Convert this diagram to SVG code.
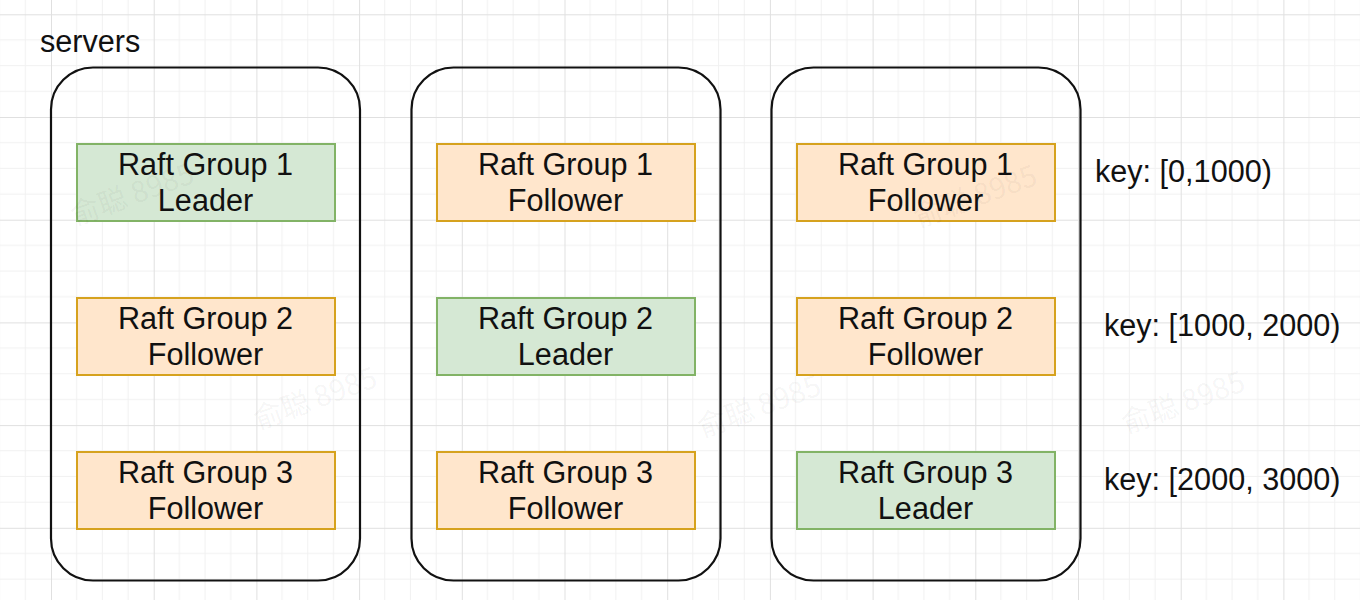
<svg xmlns="http://www.w3.org/2000/svg" width="1360" height="600" viewBox="0 0 1360 600">
  <defs>
    <pattern id="grid" patternUnits="userSpaceOnUse" x="51" y="14.3" width="102.7" height="102.7">
      <path d="M25.675 0V102.7M51.35 0V102.7M77.025 0V102.7M0 25.675H102.7M0 51.35H102.7M0 77.025H102.7" stroke="#f1f1f1" stroke-width="1" fill="none"/>
      <path d="M0.5 0V102.7M0 0.5H102.7" stroke="#e0e0e0" stroke-width="1" fill="none"/>
    </pattern>
    <style>
      .server { fill: none; stroke: #111; stroke-width: 2.2; }
      .leader { fill: #d5e8d4; stroke: #82b366; stroke-width: 2; }
      .follower { fill: #ffe6cc; stroke: #d6a21e; stroke-width: 2; }
      .t { font-family: "Liberation Sans", Arial, sans-serif; font-size: 30.6px; fill: #111; }
      .c { text-anchor: middle; }
      .wm { font-family: "Noto Sans CJK SC", "Liberation Sans", sans-serif; font-size: 29px; fill: #000; fill-opacity: 0.05; }
    </style>
  </defs>
  <rect width="1360" height="600" fill="#ffffff"/>
  <rect width="1360" height="600" fill="url(#grid)"/>

  <text class="t" x="40" y="52">servers</text>

  <g id="server1"><rect class="server" x="51" y="67.5" width="309" height="513" rx="42"/></g>
  <g id="server2"><rect class="server" x="411.5" y="67.5" width="309" height="513" rx="42"/></g>
  <g id="server3"><rect class="server" x="771.5" y="67.5" width="309" height="513" rx="42"/></g>

  <g id="s1g1"><rect class="leader" x="77" y="144" width="258" height="77"/>
    <text class="t c" x="205.5" y="175">Raft Group 1</text><text class="t c" x="205.5" y="211">Leader</text></g>
  <g id="s1g2"><rect class="follower" x="77" y="298" width="258" height="77"/>
    <text class="t c" x="205.5" y="329">Raft Group 2</text><text class="t c" x="205.5" y="365">Follower</text></g>
  <g id="s1g3"><rect class="follower" x="77" y="452" width="258" height="77"/>
    <text class="t c" x="205.5" y="483">Raft Group 3</text><text class="t c" x="205.5" y="519">Follower</text></g>

  <g id="s2g1"><rect class="follower" x="437" y="144" width="258" height="77"/>
    <text class="t c" x="565.5" y="175">Raft Group 1</text><text class="t c" x="565.5" y="211">Follower</text></g>
  <g id="s2g2"><rect class="leader" x="437" y="298" width="258" height="77"/>
    <text class="t c" x="565.5" y="329">Raft Group 2</text><text class="t c" x="565.5" y="365">Leader</text></g>
  <g id="s2g3"><rect class="follower" x="437" y="452" width="258" height="77"/>
    <text class="t c" x="565.5" y="483">Raft Group 3</text><text class="t c" x="565.5" y="519">Follower</text></g>

  <g id="s3g1"><rect class="follower" x="797" y="144" width="258" height="77"/>
    <text class="t c" x="925.5" y="175">Raft Group 1</text><text class="t c" x="925.5" y="211">Follower</text></g>
  <g id="s3g2"><rect class="follower" x="797" y="298" width="258" height="77"/>
    <text class="t c" x="925.5" y="329">Raft Group 2</text><text class="t c" x="925.5" y="365">Follower</text></g>
  <g id="s3g3"><rect class="leader" x="797" y="452" width="258" height="77"/>
    <text class="t c" x="925.5" y="483">Raft Group 3</text><text class="t c" x="925.5" y="519">Leader</text></g>

  <g id="keys">
    <text class="t" x="1095" y="182">key: [0,1000)</text>
    <text class="t" x="1104" y="336">key: [1000, 2000)</text>
    <text class="t" x="1104" y="490">key: [2000, 3000)</text>
  </g>

  <g id="connectors"></g>

  <g id="watermarks">
    <text class="wm" transform="translate(75,226) rotate(-20)">俞聪 8985</text>
    <text class="wm" transform="translate(918,228) rotate(-20)">俞聪 8985</text>
    <text class="wm" transform="translate(258,430) rotate(-20)">俞聪 8985</text>
    <text class="wm" transform="translate(702,438) rotate(-20)">俞聪 8985</text>
    <text class="wm" transform="translate(1126,434) rotate(-20)">俞聪 8985</text>
  </g>
</svg>
